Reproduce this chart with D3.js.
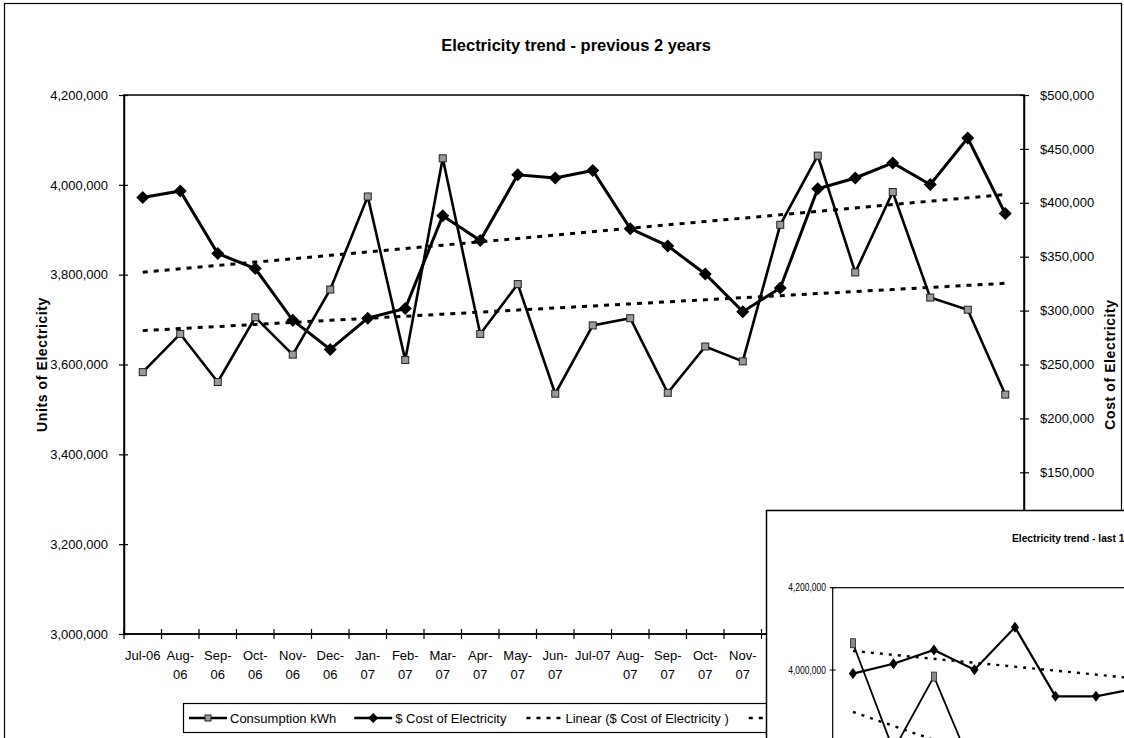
<!DOCTYPE html>
<html>
<head>
<meta charset="utf-8">
<script src="https://cdn.jsdelivr.net/npm/d3@7"></script>
<style>
  html, body { margin: 0; padding: 0; background: #fff; overflow: hidden; }
  svg { display: block; font-family: "Liberation Sans", Arial, sans-serif; }
</style>
</head>
<body>
<svg id="chart" width="1124" height="738"></svg>
<script>
// ---- data ----
const months = ["Jul-06","Aug-06","Sep-06","Oct-06","Nov-06","Dec-06","Jan-07","Feb-07","Mar-07","Apr-07","May-07","Jun-07",
                "Jul-07","Aug-07","Sep-07","Oct-07","Nov-07","Dec-07","Jan-08","Feb-08","Mar-08","Apr-08","May-08","Jun-08"];
const consumptionKWh = [3583000,3668000,3561000,3705000,3622000,3767000,3974000,3610000,4059000,3668000,3779000,3535000,
                        3687000,3703000,3537000,3640000,3607000,3911000,4065000,3805000,3984000,3749000,3722000,3533000];
const costDollars = [405000,411000,353000,339000,291000,264000,293000,302000,388000,365000,426000,423000,
                     430000,376000,360000,334000,299000,321000,413000,423000,437000,417000,460000,390000];
const unitTicks = [3000000,3200000,3400000,3600000,3800000,4000000,4200000];
const costTicks = [0,50000,100000,150000,200000,250000,300000,350000,400000,450000,500000];
const legendLabels = ["Consumption kWh", "$ Cost of Electricity", "Linear ($ Cost of Electricity )", "Linear (Consumption kWh)"];

// last-12-months panel
const insetMonths = ["Jan-08","Feb-08","Mar-08","Apr-08","May-08","Jun-08","Jul-08","Aug-08","Sep-08","Oct-08","Nov-08","Dec-08"];
const insetConsumption = [4065000,3805000,3984000,3749000,3722000,3533000];
const insetCost = [413000,423000,437000,417000,460000,390000,390000,398000];
const insetCostTrend = [436000, 392000];          // first and last month
const insetConsumptionTrend = [3898000, 3524000]; // first and last month
const insetUnitTicks = [3000000,3200000,3400000,3600000,3800000,4000000,4200000];

// ---- helpers ----
const svg = d3.select("#chart");
const fmtUnits = d3.format(",");
const fmtCost = v => "$" + d3.format(",")(v);

function linearFit(vals) {
  const n = vals.length, mx = (n - 1) / 2, my = d3.mean(vals);
  let sxy = 0, sxx = 0;
  vals.forEach((v, i) => { sxy += (i - mx) * (v - my); sxx += (i - mx) * (i - mx); });
  const b = sxy / sxx;
  return vals.map((v, i) => my + b * (i - mx));
}

const diamond = r => `M0,${-r}L${r},0L0,${r}L${-r},0Z`;

// ---- outer chart frame ----
svg.append("rect").attr("x", 4.5).attr("y", 3.5).attr("width", 1117).attr("height", 900)
  .attr("fill", "#fff").attr("stroke", "#000").attr("stroke-width", 1.2);

// ---- main plot ----
const plot = { left: 124, right: 1024, top: 95, bottom: 634 };
const x = d3.scaleBand().domain(months).range([plot.left, plot.right]).padding(0);
const yL = d3.scaleLinear().domain([3000000, 4200000]).range([plot.bottom, plot.top]);
const yR = d3.scaleLinear().domain([0, 500000]).range([plot.bottom, plot.top]);
const cx = (d, i) => x(months[i]) + x.bandwidth() / 2;

svg.append("text").attr("x", 576).attr("y", 51).attr("text-anchor", "middle")
  .attr("font-size", 16.5).attr("font-weight", "bold").text("Electricity trend - previous 2 years");

svg.append("rect").attr("x", plot.left).attr("y", plot.top)
  .attr("width", plot.right - plot.left).attr("height", plot.bottom - plot.top)
  .attr("fill", "none").attr("stroke", "#000").attr("stroke-width", 1.5);

// left axis
const gL = svg.append("g").attr("transform", `translate(${plot.left},0)`)
  .call(d3.axisLeft(yL).tickValues(unitTicks).tickFormat(fmtUnits).tickSize(5).tickSizeOuter(0).tickPadding(11));
gL.select(".domain").attr("stroke-width", 1.5);
gL.selectAll(".tick line").attr("x1", 4).attr("stroke-width", 1.2);
gL.selectAll(".tick text").attr("font-size", 13).attr("font-family", "Liberation Sans, Arial, sans-serif");

// right axis
const gR = svg.append("g").attr("transform", `translate(${plot.right},0)`)
  .call(d3.axisRight(yR).tickValues(costTicks).tickFormat(fmtCost).tickSize(5).tickSizeOuter(0).tickPadding(11));
gR.select(".domain").attr("stroke-width", 1.5);
gR.selectAll(".tick line").attr("x1", -4).attr("stroke-width", 1.2);
gR.selectAll(".tick text").attr("font-size", 13).attr("font-family", "Liberation Sans, Arial, sans-serif");

// category axis: ticks sit between months
svg.append("line").attr("x1", plot.left).attr("x2", plot.right).attr("y1", plot.bottom).attr("y2", plot.bottom)
  .attr("stroke", "#000").attr("stroke-width", 1.5);
svg.append("g").selectAll("line").data(months.concat([null])).join("line")
  .attr("x1", (d, i) => plot.left + i * x.step()).attr("x2", (d, i) => plot.left + i * x.step())
  .attr("y1", plot.bottom - 5).attr("y2", plot.bottom + 5).attr("stroke", "#000").attr("stroke-width", 1.2);

const xLabels = svg.append("g").attr("font-size", 13).attr("text-anchor", "middle");
months.forEach((m, i) => {
  const t = xLabels.append("text").attr("x", cx(m, i)).attr("y", 660);
  t.text(m);
  if (t.node().getComputedTextLength() > x.bandwidth()) {
    const cut = m.indexOf("-") + 1;
    t.text(null);
    t.append("tspan").attr("x", cx(m, i)).attr("dy", 0).text(m.slice(0, cut));
    t.append("tspan").attr("x", cx(m, i)).attr("dy", 19).text(m.slice(cut));
  }
});

// axis titles
svg.append("text").attr("transform", `translate(47,${(plot.top + plot.bottom) / 2}) rotate(-90)`)
  .attr("text-anchor", "middle").attr("font-size", 14).attr("font-weight", "bold").attr("letter-spacing", 0.6)
  .text("Units of Electricity");
svg.append("text").attr("transform", `translate(1115,${(plot.top + plot.bottom) / 2}) rotate(-90)`)
  .attr("text-anchor", "middle").attr("font-size", 14).attr("font-weight", "bold").attr("letter-spacing", 0.6)
  .text("Cost of Electricity");

// trend lines
const trendStyle = sel => sel.attr("fill", "none").attr("stroke", "#000").attr("stroke-width", 3).attr("stroke-dasharray", "5,6");
svg.append("path").datum(linearFit(costDollars)).call(trendStyle)
  .attr("d", d3.line().x(cx).y(d => yR(d)));
svg.append("path").datum(linearFit(consumptionKWh)).call(trendStyle)
  .attr("d", d3.line().x(cx).y(d => yL(d)));

// consumption series
svg.append("path").datum(consumptionKWh).attr("fill", "none").attr("stroke", "#000").attr("stroke-width", 2.6)
  .attr("stroke-linejoin", "miter").attr("d", d3.line().x(cx).y(d => yL(d)));
svg.append("g").selectAll("rect").data(consumptionKWh).join("rect")
  .attr("x", (d, i) => cx(d, i) - 3.5).attr("y", d => yL(d) - 3.5).attr("width", 7).attr("height", 7)
  .attr("fill", "#9a9a9a").attr("stroke", "#222").attr("stroke-width", 1);

// cost series
svg.append("path").datum(costDollars).attr("fill", "none").attr("stroke", "#000").attr("stroke-width", 3)
  .attr("d", d3.line().x(cx).y(d => yR(d)));
svg.append("g").selectAll("path").data(costDollars).join("path")
  .attr("transform", (d, i) => `translate(${cx(d, i)},${yR(d)})`).attr("d", diamond(6.5)).attr("fill", "#000");

// ---- legend ----
const lg = svg.append("g").attr("font-size", 13);
lg.append("rect").attr("x", 183.5).attr("y", 703.5).attr("width", 840).attr("height", 29)
  .attr("fill", "#fff").attr("stroke", "#000").attr("stroke-width", 1.2);
let lx = 189;
const ly = 718;
legendLabels.forEach((lab, k) => {
  const sw = 38;
  if (k < 2) {
    lg.append("line").attr("x1", lx).attr("x2", lx + sw).attr("y1", ly).attr("y2", ly)
      .attr("stroke", "#000").attr("stroke-width", 2.5);
    if (k === 0) lg.append("rect").attr("x", lx + sw / 2 - 3).attr("y", ly - 3).attr("width", 6).attr("height", 6)
      .attr("fill", "#9a9a9a").attr("stroke", "#222");
    else lg.append("path").attr("transform", `translate(${lx + sw / 2},${ly})`).attr("d", diamond(5)).attr("fill", "#000");
  } else {
    lg.append("line").attr("x1", lx + 2).attr("x2", lx + sw).attr("y1", ly).attr("y2", ly)
      .attr("stroke", "#000").attr("stroke-width", 2.5).attr("stroke-dasharray", "4,6");
  }
  const t = lg.append("text").attr("x", lx + sw + 3).attr("y", ly + 4.5).text(lab);
  lx += sw + 3 + t.node().getComputedTextLength() + 18;
});

// ---- last-12-months panel ----
const inset = svg.append("g");
inset.append("rect").attr("x", 766.5).attr("y", 510.5).attr("width", 600).attr("height", 400)
  .attr("fill", "#fff").attr("stroke", "#000").attr("stroke-width", 1.5);
inset.append("text").attr("x", 1012).attr("y", 542).attr("font-size", 11).attr("font-weight", "bold")
  .attr("transform", "translate(1012,0) scale(0.93,1) translate(-1012,0)")
  .text("Electricity trend - last 12 months");

const ip = { left: 832.7, top: 587.7, bottom: 1081.5 };
const xi = d3.scaleBand().domain(insetMonths).range([ip.left, ip.left + 486]).padding(0);
const yiL = d3.scaleLinear().domain([3000000, 4200000]).range([ip.bottom, ip.top]);
const yiR = d3.scaleLinear().domain([0, 500000]).range([ip.bottom, ip.top]);
const icx = (d, i) => xi(insetMonths[i]) + xi.bandwidth() / 2;

inset.append("rect").attr("x", ip.left).attr("y", ip.top).attr("width", 486).attr("height", ip.bottom - ip.top)
  .attr("fill", "none").attr("stroke", "#000").attr("stroke-width", 1.2);
inset.append("g").selectAll("line").data(insetUnitTicks).join("line")
  .attr("x1", ip.left - 3).attr("x2", ip.left + 3).attr("y1", d => yiL(d)).attr("y2", d => yiL(d))
  .attr("stroke", "#000");
inset.append("g").selectAll("text").data(insetUnitTicks).join("text")
  .attr("transform", d => `translate(826,${yiL(d) + 3.5}) scale(0.85,1)`)
  .attr("text-anchor", "end").attr("font-size", 10).text(fmtUnits);

const trendLine = (vals, yS) => {
  const n = insetMonths.length;
  const pts = [[icx(null, 0), yS(vals[0])], [icx(null, n - 1), yS(vals[1])]];
  inset.append("path").attr("d", d3.line()(pts)).attr("fill", "none").attr("stroke", "#000")
    .attr("stroke-width", 2.4).attr("stroke-dasharray", "3,6");
};
trendLine(insetCostTrend, yiR);
trendLine(insetConsumptionTrend, yiL);

inset.append("path").datum(insetConsumption).attr("fill", "none").attr("stroke", "#000").attr("stroke-width", 1.8)
  .attr("d", d3.line().x(icx).y(d => yiL(d)));
inset.append("g").selectAll("rect").data(insetConsumption).join("rect")
  .attr("x", (d, i) => icx(d, i) - 2.5).attr("y", d => yiL(d) - 4.5).attr("width", 5).attr("height", 9)
  .attr("fill", "#8a8a8a").attr("stroke", "#222").attr("stroke-width", 0.8);
inset.append("path").datum(insetCost).attr("fill", "none").attr("stroke", "#000").attr("stroke-width", 2.2)
  .attr("d", d3.line().x(icx).y(d => yiR(d)));
inset.append("g").selectAll("path").data(insetCost).join("path")
  .attr("transform", (d, i) => `translate(${icx(d, i)},${yiR(d)}) scale(0.75,1)`)
  .attr("d", diamond(5.5)).attr("fill", "#000");
</script>
</body>
</html>
